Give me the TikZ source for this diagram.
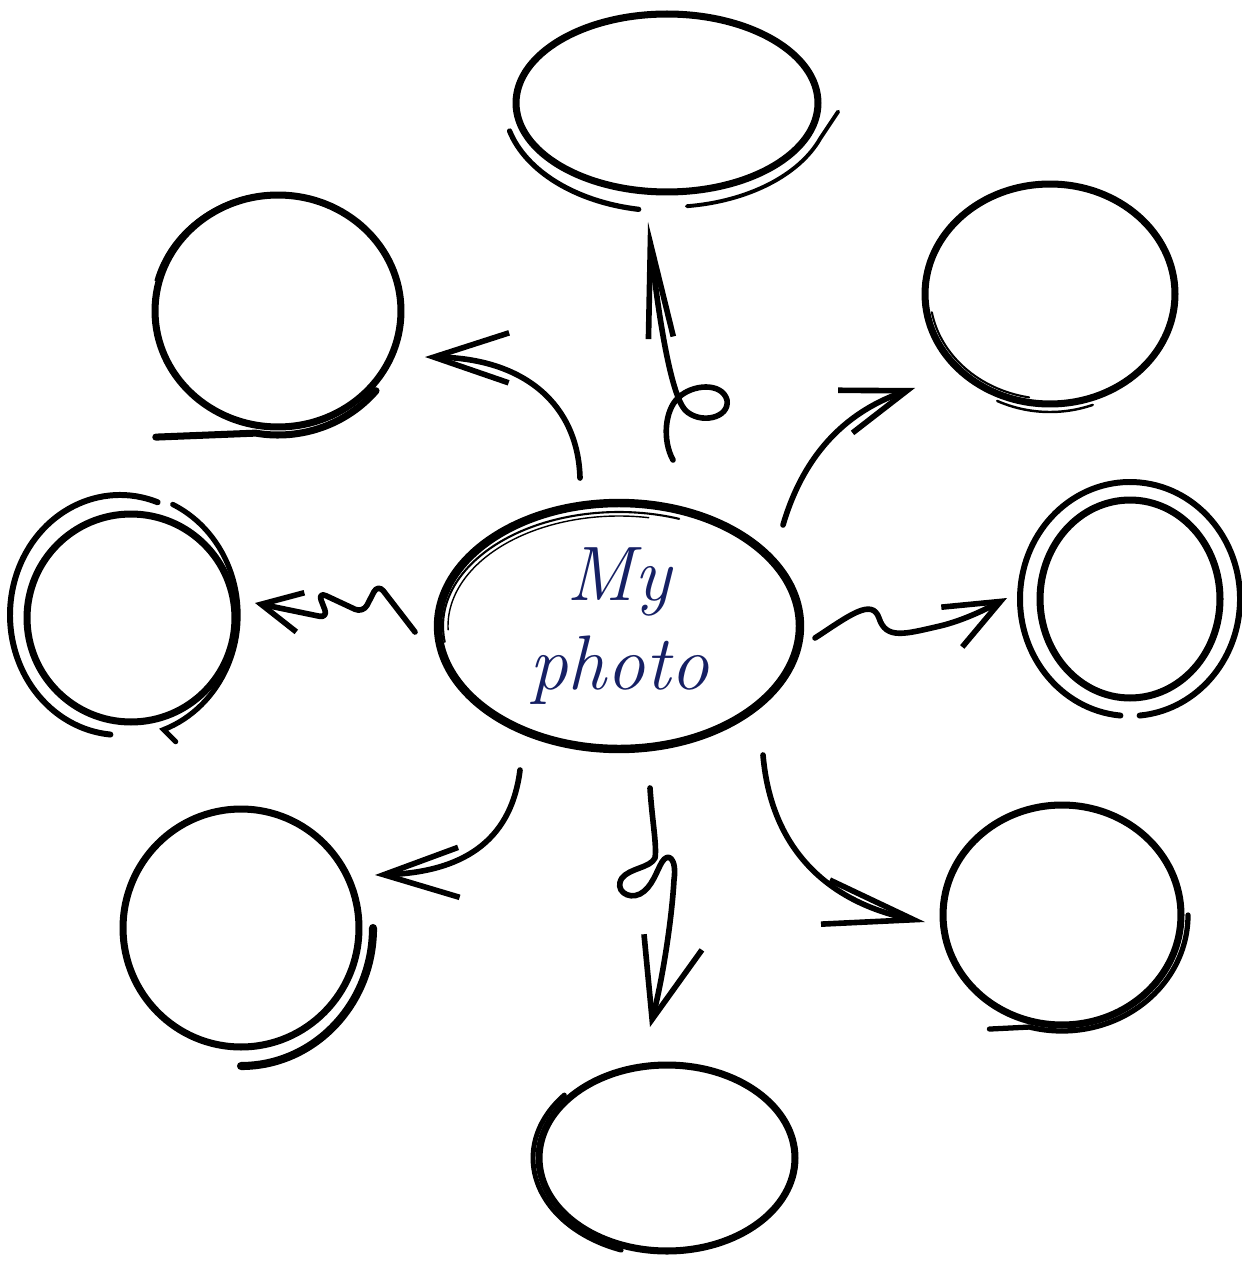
\documentclass[tikz,border=0pt]{standalone}
\usepackage{tikz}
\usetikzlibrary{shapes.geometric, arrows.meta, calc}
\definecolor{inkblue}{RGB}{22,32,100}
\tikzset{
        bubble/.style={ellipse, draw, line width=4pt, inner sep=0pt}, % the hand drawn bubbles
        pen/.style={line width=2.2pt, line cap=round}, % extra pen strokes round a bubble
        link/.style={line width=3.2pt, line cap=round, line join=round,
                -{Straight Barb[length=1.5cm, width=1cm]}}, % the sketched arrows
        }

\begin{document}
\begin{tikzpicture}[x=0.02cm, y=-0.02cm] % one unit is one pixel, y runs down
        \useasboundingbox (0,0) rectangle (1241,1283);

        % bubbles
        \node[bubble, line width=4.8pt, minimum width=7.24cm, minimum height=4.92cm,
              font=\itshape\fontsize{44}{51}\selectfont, text=inkblue, align=center] (Photo) at (619,626) {My\\photo};
        \node[bubble, minimum width=6.04cm, minimum height=3.56cm] (Top) at (667,103) {};
        \node[bubble, minimum width=4.92cm, minimum height=4.64cm] (TopLeft) at (278,311) {};
        \node[bubble, minimum width=5.0cm, minimum height=4.4cm] (TopRight) at (1050,294) {};
        \node[bubble, minimum width=4.16cm, minimum height=4.16cm] (Left) at (131,618) {};
        \node[bubble, minimum width=3.6cm, minimum height=3.96cm] (Right) at (1130,599) {};
        \node[bubble, minimum width=4.72cm, minimum height=4.76cm] (BottomLeft) at (241,928) {};
        \node[bubble, minimum width=4.76cm, minimum height=4.4cm] (BottomRight) at (1062,915) {};
        \node[bubble, minimum width=5.12cm, minimum height=3.72cm] (Bottom) at (667,1158) {};

        % second strokes of the pen
        \draw[pen, line width=1.2pt] (Photo.center) ++(172:176 and 114) arc[start angle=172, end angle=290, x radius=176, y radius=114];
        \draw[pen, line width=0.8pt] (Photo.center) ++(178:171 and 110) arc[start angle=178, end angle=280, x radius=171, y radius=110];
        \draw[pen, line width=3pt] (Top.center) ++(165:163 and 108) arc[start angle=165, end angle=100, x radius=163, y radius=108];
        \draw[pen] (Top.center) ++(83:163 and 104) arc[start angle=83, end angle=20, x radius=163, y radius=104] -- ++(18,-27);
        \draw[pen, line width=4pt] (TopLeft.center) ++(40:128 and 124) arc[start angle=40, end angle=100, x radius=128, y radius=124] -- ++(-100,4);
        \draw[pen, line width=1pt] (TopLeft.center) ++(195:127 and 118) arc[start angle=195, end angle=265, x radius=127, y radius=118];
        \draw[pen, line width=1.2pt] (TopRight.center) ++(170:120 and 105) arc[start angle=170, end angle=100, x radius=120, y radius=105];
        \draw[pen, line width=1.4pt] (TopRight.center) ++(115:125 and 118) arc[start angle=115, end angle=70, x radius=125, y radius=118];
        \draw[pen, line width=3.4pt] ([shift={(-11,-3)}]Left.center) ++(290:110 and 120) arc[start angle=290, end angle=95, x radius=110, y radius=120];
        \draw[pen, line width=3pt] ([shift={(-6,-3)}]Left.center) ++(295:113 and 122) arc[start angle=295, end angle=430, x radius=113, y radius=122] -- ++(12,12);
        \draw[pen, line width=3.4pt] (Right.center) ++(95:110 and 117) arc[start angle=95, end angle=445, x radius=110, y radius=117];
        \draw[pen, line width=4.6pt] (BottomLeft.center) ++(90:132 and 138) arc[start angle=90, end angle=0, x radius=132, y radius=138];
        \draw[pen, line width=3pt] (BottomRight.center) ++(0:126 and 116) arc[start angle=0, end angle=105, x radius=126, y radius=116] -- ++(-40,2);
        \draw[pen, line width=2.8pt] (Bottom.center) ++(220:134 and 98) arc[start angle=220, end angle=110, x radius=134, y radius=98];

        % arrows out of the photo
        \draw[link, -{Straight Barb[length=1.9cm, width=0.5cm]}] ($(Photo)+(54,-166)$) .. controls (662,440) and (665,410) .. (678,398)
                .. controls (692,384) and (722,382) .. (727,400) .. controls (730,418) and (700,425) .. (685,410)
                .. controls (672,395) and (660,330) .. ($(Top)+(-19,119)$);
        \draw[link] ($(Photo)+(-39,-148)$) .. controls (578,405) and (525,358) .. ($(TopLeft)+(147,46)$);
        \draw[link, -{Straight Barb[length=1.3cm, width=0.9cm]}] ($(Photo)+(164,-101)$) .. controls (805,450) and (850,410) .. ($(TopRight)+(-135,94)$);
        \draw[link, rounded corners=5pt, -{Straight Barb[length=0.8cm, width=0.8cm]}] ($(Photo)+(-204,6)$) -- (378,584) -- (363,613)
                -- (318,592) -- (328,618) -- ($(Left)+(124,-15)$);
        \draw[link, -{Straight Barb[length=1.1cm, width=0.9cm]}] ($(Photo)+(196,12)$) .. controls (850,615) and (872,598) .. (879,618)
                .. controls (886,640) and (905,634) .. (940,626) .. controls (965,620) and (988,608) .. ($(Right)+(-123,-1)$);
        \draw[link] ($(Photo)+(-99,144)$) .. controls (512,835) and (470,872) .. ($(BottomLeft)+(134,-53)$);
        \draw[link, -{Straight Barb[length=1.6cm, width=1.2cm]}] ($(Photo)+(31,162)$) .. controls (652,820) and (657,845) .. (655,858)
                .. controls (650,868) and (630,868) .. (622,878) .. controls (614,890) and (628,900) .. (640,894)
                .. controls (652,888) and (657,870) .. (662,862) .. controls (668,852) and (677,858) .. (674,880)
                .. controls (671,930) and (660,990) .. ($(Bottom)+(-17,-131)$);
        \draw[link, -{Straight Barb[length=1.8cm, width=0.9cm]}] ($(Photo)+(144,129)$) .. controls (772,860) and (840,905) .. ($(BottomRight)+(-137,7)$);
\end{tikzpicture}
\end{document}
